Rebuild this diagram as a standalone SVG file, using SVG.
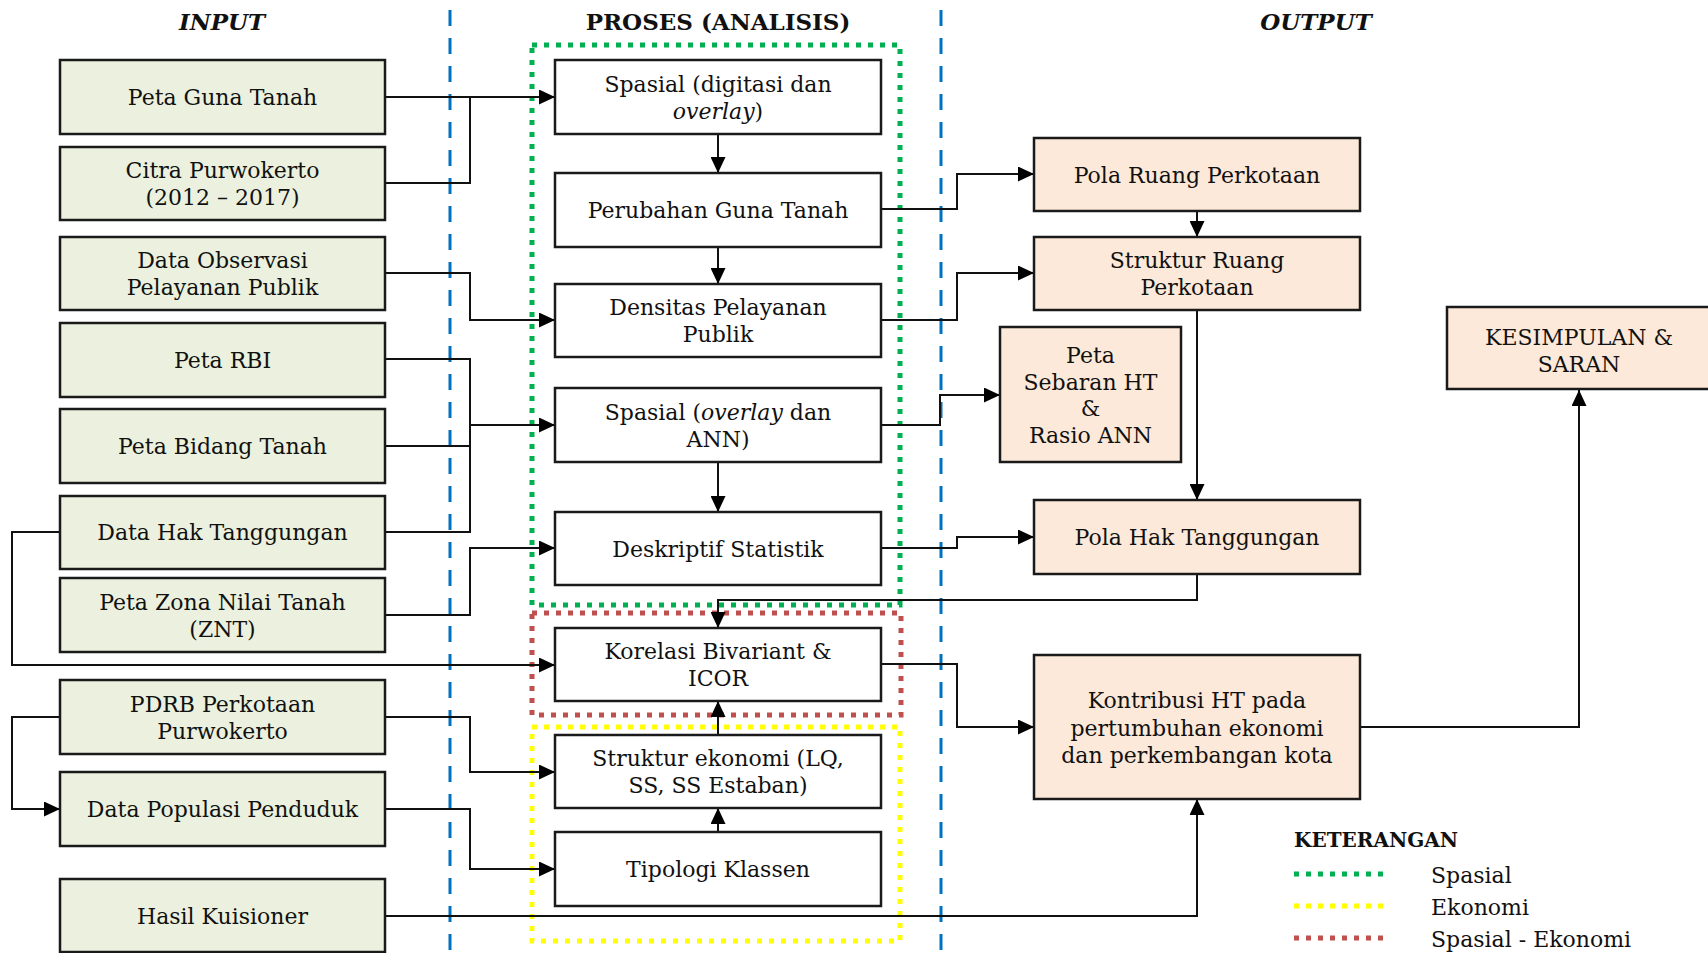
<svg xmlns="http://www.w3.org/2000/svg" width="1708" height="953" viewBox="0 0 1708 953">
<style>
text{font-family:"DejaVu Serif","Liberation Serif",serif;font-size:22px;fill:#111;text-anchor:middle}
.hd{font-weight:bold;font-size:23px}
.hi{font-weight:bold;font-style:italic;font-size:23px}
.lg{text-anchor:start}
.kt{font-weight:bold;font-size:20px;text-anchor:start}
.in{fill:#EBF1DE;stroke:#1a1a1a;stroke-width:2.5}
.pr{fill:#ffffff;stroke:#1a1a1a;stroke-width:2.5}
.out{fill:#FDE9D9;stroke:#1a1a1a;stroke-width:2.5}
.blue{stroke:#0070C0;stroke-width:3;stroke-dasharray:16 12;fill:none}
.dot{fill:none;stroke-width:5;stroke-dasharray:5 7}
.g{stroke:#00B050}.y{stroke:#FFFF00}.r{stroke:#C0504D}
.c{fill:none;stroke:#111;stroke-width:2}
.a{marker-end:url(#ah)}
</style>
<defs>
<marker id="ah" markerWidth="16" markerHeight="15" refX="16" refY="7.5" orient="auto" markerUnits="userSpaceOnUse">
<path d="M0,0 L16,7.5 L0,15 Z" fill="#000"/>
</marker>
</defs>
<rect width="1708" height="953" fill="#fff"/>

<g id="headers">
<text class="hi" x="222" y="30">INPUT</text>
<text class="hd" x="718" y="30">PROSES (ANALISIS)</text>
<text class="hi" x="1316" y="30">OUTPUT</text>
</g>

<g id="dividers">
<line class="blue" x1="450" y1="10" x2="450" y2="950"/>
<line class="blue" x1="941" y1="10" x2="941" y2="950"/>
</g>

<g id="groups">
<rect class="dot g" x="532" y="45" width="368" height="560"/>
<rect class="dot r" x="532" y="613" width="369" height="102"/>
<rect class="dot y" x="532" y="727" width="368" height="214"/>
</g>

<g id="connectors">
<path class="c a" d="M385,97 H555"/>
<path class="c" d="M385,183 H470 V97"/>
<path class="c a" d="M385,273 H470 V320 H555"/>
<path class="c" d="M385,359 H470 V532 H385"/>
<path class="c" d="M385,446 H470"/>
<path class="c a" d="M470,425 H555"/>
<path class="c a" d="M385,615 H470 V548 H555"/>
<path class="c a" d="M60,532 H12 V665 H555"/>
<path class="c a" d="M60,717 H12 V809 H60"/>
<path class="c a" d="M385,717 H470 V772 H555"/>
<path class="c a" d="M385,809 H470 V869 H555"/>
<path class="c a" d="M385,916 H1197 V799"/>
<path class="c a" d="M718,134 V173"/>
<path class="c a" d="M718,247 V284"/>
<path class="c a" d="M718,462 V512"/>
<path class="c a" d="M718,735 V701"/>
<path class="c a" d="M718,832 V808"/>
<path class="c a" d="M1197,574 V600 H718 V628"/>
<path class="c a" d="M881,209 H957 V174 H1034"/>
<path class="c a" d="M881,320 H957 V273 H1034"/>
<path class="c a" d="M881,425 H940 V395 H1000"/>
<path class="c a" d="M881,548 H957 V537 H1034"/>
<path class="c a" d="M881,664 H957 V727 H1034"/>
<path class="c a" d="M1197,211 V237"/>
<path class="c a" d="M1197,310 V500"/>
<path class="c a" d="M1360,727 H1579 V390"/>
</g>

<g id="in-peta-guna-tanah"><rect class="in" x="60" y="60" width="325" height="74"/><text x="222.5" y="105">Peta Guna Tanah</text></g>
<g id="in-citra"><rect class="in" x="60" y="147" width="325" height="73"/><text x="222.5" y="178">Citra Purwokerto</text><text x="222.5" y="205">(2012 – 2017)</text></g>
<g id="in-data-observasi"><rect class="in" x="60" y="237" width="325" height="73"/><text x="222.5" y="268">Data Observasi</text><text x="222.5" y="295">Pelayanan Publik</text></g>
<g id="in-peta-rbi"><rect class="in" x="60" y="323" width="325" height="74"/><text x="222.5" y="368">Peta RBI</text></g>
<g id="in-peta-bidang"><rect class="in" x="60" y="409" width="325" height="74"/><text x="222.5" y="454">Peta Bidang Tanah</text></g>
<g id="in-data-hak"><rect class="in" x="60" y="496" width="325" height="73"/><text x="222.5" y="540">Data Hak Tanggungan</text></g>
<g id="in-peta-znt"><rect class="in" x="60" y="578" width="325" height="74"/><text x="222.5" y="610">Peta Zona Nilai Tanah</text><text x="222.5" y="637">(ZNT)</text></g>
<g id="in-pdrb"><rect class="in" x="60" y="680" width="325" height="74"/><text x="222.5" y="712">PDRB Perkotaan</text><text x="222.5" y="739">Purwokerto</text></g>
<g id="in-populasi"><rect class="in" x="60" y="772" width="325" height="74"/><text x="222.5" y="817">Data Populasi Penduduk</text></g>
<g id="in-kuisioner"><rect class="in" x="60" y="879" width="325" height="73"/><text x="222.5" y="924">Hasil Kuisioner</text></g>

<g id="pr-spasial-digitasi"><rect class="pr" x="555" y="60" width="326" height="74"/><text x="718" y="92">Spasial (digitasi dan</text><text x="718" y="119"><tspan font-style="italic">overlay</tspan>)</text></g>
<g id="pr-perubahan"><rect class="pr" x="555" y="173" width="326" height="74"/><text x="718" y="218">Perubahan Guna Tanah</text></g>
<g id="pr-densitas"><rect class="pr" x="555" y="284" width="326" height="73"/><text x="718" y="315">Densitas Pelayanan</text><text x="718" y="342">Publik</text></g>
<g id="pr-spasial-overlay"><rect class="pr" x="555" y="388" width="326" height="74"/><text x="718" y="420">Spasial (<tspan font-style="italic">overlay</tspan> dan</text><text x="718" y="447">ANN)</text></g>
<g id="pr-deskriptif"><rect class="pr" x="555" y="512" width="326" height="73"/><text x="718" y="557">Deskriptif Statistik</text></g>
<g id="pr-korelasi"><rect class="pr" x="555" y="628" width="326" height="73"/><text x="718" y="659">Korelasi Bivariant &amp;</text><text x="718" y="686">ICOR</text></g>
<g id="pr-struktur-ekonomi"><rect class="pr" x="555" y="735" width="326" height="73"/><text x="718" y="766">Struktur ekonomi (LQ,</text><text x="718" y="793">SS, SS Estaban)</text></g>
<g id="pr-tipologi"><rect class="pr" x="555" y="832" width="326" height="74"/><text x="718" y="877">Tipologi Klassen</text></g>

<g id="out-pola-ruang"><rect class="out" x="1034" y="138" width="326" height="73"/><text x="1197" y="183">Pola Ruang Perkotaan</text></g>
<g id="out-struktur-ruang"><rect class="out" x="1034" y="237" width="326" height="73"/><text x="1197" y="268">Struktur Ruang</text><text x="1197" y="295">Perkotaan</text></g>
<g id="out-peta-sebaran"><rect class="out" x="1000" y="327" width="181" height="135"/><text x="1090.5" y="363">Peta</text><text x="1090.5" y="390">Sebaran HT</text><text x="1090.5" y="416">&amp;</text><text x="1090.5" y="443">Rasio ANN</text></g>
<g id="out-pola-hak"><rect class="out" x="1034" y="500" width="326" height="74"/><text x="1197" y="545">Pola Hak Tanggungan</text></g>
<g id="out-kontribusi"><rect class="out" x="1034" y="655" width="326" height="144"/><text x="1197" y="708">Kontribusi HT pada</text><text x="1197" y="736">pertumbuhan ekonomi</text><text x="1197" y="763">dan perkembangan kota</text></g>
<g id="out-kesimpulan"><rect class="out" x="1447" y="307" width="264" height="82"/><text x="1579" y="345">KESIMPULAN &amp;</text><text x="1579" y="372">SARAN</text></g>

<g id="legend">
<text class="kt" x="1294" y="847">KETERANGAN</text>
<line class="dot g" x1="1294" y1="874" x2="1385" y2="874"/>
<line class="dot y" x1="1294" y1="906" x2="1385" y2="906"/>
<line class="dot r" x1="1294" y1="938" x2="1385" y2="938"/>
<text class="lg" x="1431" y="883">Spasial</text>
<text class="lg" x="1431" y="915">Ekonomi</text>
<text class="lg" x="1431" y="947">Spasial - Ekonomi</text>
</g>
</svg>
